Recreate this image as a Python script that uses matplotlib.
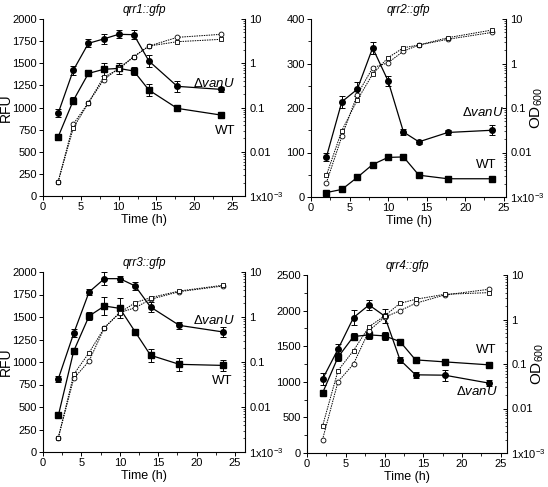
import matplotlib
matplotlib.use('Agg')
from matplotlib import pyplot as plt
from matplotlib.ticker import MultipleLocator, LogLocator, NullFormatter

plt.rcParams['font.family'] = ['Liberation Sans', 'DejaVu Sans']
plt.rcParams['mathtext.fontset'] = 'custom'
plt.rcParams['mathtext.rm'] = 'Liberation Sans'
plt.rcParams['mathtext.it'] = 'Liberation Sans:italic'

time_h = [2, 4, 6, 8, 10, 12, 14, 17.75, 23.5]

# qrr1::gfp
qrr1_vanu = [934, 1420, 1725, 1774, 1827, 1823, 1525, 1239, 1205]
qrr1_vanu_err = [45, 50, 45, 60, 45, 50, 70, 65, 30]
qrr1_wt = [668, 1078, 1385, 1431, 1442, 1412, 1197, 990, 915]
qrr1_wt_err = [30, 35, 20, 70, 65, 50, 65, 35, 30]
qrr1_od_vanu = [0.0021, 0.042, 0.128, 0.42, 0.77, 1.41, 2.45, 3.85, 4.5]
qrr1_od_wt = [0.0021, 0.034, 0.128, 0.48, 0.73, 1.40, 2.45, 3.07, 3.47]

# qrr2::gfp
qrr2_vanu = [90, 214, 242, 335, 261, 146, 124, 145, 150]
qrr2_vanu_err = [10, 14, 16, 14, 11, 7, 4, 6, 11]
qrr2_wt = [10, 17, 44, 73, 89, 90, 49, 41, 41]
qrr2_wt_err = [2, 2, 2, 2, 2, 2, 2, 2, 2]
qrr2_od_vanu = [0.0021, 0.023, 0.20, 0.80, 1.04, 1.9, 2.6, 3.5, 5.0]
qrr2_od_wt = [0.0031, 0.031, 0.15, 0.58, 1.35, 2.26, 2.6, 3.8, 5.65]

# qrr3::gfp
qrr3_vanu = [815, 1319, 1778, 1926, 1926, 1845, 1611, 1407, 1333]
qrr3_vanu_err = [35, 45, 30, 75, 35, 45, 55, 40, 55]
qrr3_wt = [407, 1122, 1511, 1622, 1596, 1335, 1075, 974, 962]
qrr3_wt_err = [15, 30, 45, 100, 110, 30, 75, 70, 65]
qrr3_od_vanu = [0.0021, 0.043, 0.105, 0.58, 1.25, 1.61, 2.47, 3.66, 4.9]
qrr3_od_wt = [0.0021, 0.053, 0.161, 0.58, 1.25, 2.08, 2.69, 3.78, 5.1]

# qrr4::gfp
qrr4_vanu = [1037, 1458, 1902, 2079, 1925, 1308, 1098, 1093, 981]
qrr4_vanu_err = [85, 75, 100, 75, 100, 45, 40, 75, 45]
qrr4_wt = [841, 1346, 1636, 1659, 1645, 1565, 1308, 1280, 1238]
qrr4_wt_err = [30, 60, 55, 60, 55, 40, 30, 35, 45]
qrr4_od_vanu = [0.002, 0.04, 0.10, 0.56, 1.12, 1.58, 2.31, 3.56, 4.78]
qrr4_od_wt = [0.004, 0.071, 0.20, 0.69, 1.2, 2.31, 2.84, 3.68, 4.02]

od_ticks = [1e-3, 0.01, 0.1, 1, 10]
od_labels = ['1x10$^{-3}$', '0.01', '0.1', '1', '10']

panels = [
    dict(title='qrr1::gfp', vanu=qrr1_vanu, vanu_err=qrr1_vanu_err, wt=qrr1_wt, wt_err=qrr1_wt_err,
         od_vanu=qrr1_od_vanu, od_wt=qrr1_od_wt, ymax=2000, ystep=250, yminor=None,
         rect=[43, 19, 245, 196], xmax=26.7, left_label=True,
         vanu_txt=(0.95, 0.638), wt_txt=(0.955, 0.367)),
    dict(title='qrr2::gfp', vanu=qrr2_vanu, vanu_err=qrr2_vanu_err, wt=qrr2_wt, wt_err=qrr2_wt_err,
         od_vanu=qrr2_od_vanu, od_wt=qrr2_od_wt, ymax=400, ystep=100, yminor=50,
         rect=[311, 19, 506, 197], xmax=25.3, left_label=False,
         vanu_txt=(0.99, 0.472), wt_txt=(0.95, 0.18)),
    dict(title='qrr3::gfp', vanu=qrr3_vanu, vanu_err=qrr3_vanu_err, wt=qrr3_wt, wt_err=qrr3_wt_err,
         od_vanu=qrr3_od_vanu, od_wt=qrr3_od_wt, ymax=2000, ystep=250, yminor=None,
         rect=[43, 272, 245, 452], xmax=26.3, left_label=True,
         vanu_txt=(0.95, 0.733), wt_txt=(0.94, 0.394)),
    dict(title='qrr4::gfp', vanu=qrr4_vanu, vanu_err=qrr4_vanu_err, wt=qrr4_wt, wt_err=qrr4_wt_err,
         od_vanu=qrr4_od_vanu, od_wt=qrr4_od_wt, ymax=2500, ystep=500, yminor=250,
         rect=[307, 275, 507, 453], xmax=25.8, left_label=False,
         vanu_txt=(0.955, 0.348), wt_txt=(0.945, 0.579)),
]

W, H = 548, 487
fig = plt.figure(figsize=(W / 100, H / 100), dpi=100)

for p in panels:
    x0, y0, x1, y1 = p['rect']
    ax = fig.add_axes([x0 / W, 1 - y1 / H, (x1 - x0) / W, (y1 - y0) / H])
    ax2 = ax.twinx()

    ax.errorbar(time_h, p['vanu'], yerr=p['vanu_err'], color='black', marker='o', ms=4,
                lw=0.9, elinewidth=0.7, capsize=2, capthick=0.7, zorder=3)
    ax.errorbar(time_h, p['wt'], yerr=p['wt_err'], color='black', marker='s', ms=4,
                lw=0.9, elinewidth=0.7, capsize=2, capthick=0.7, zorder=3)

    ax2.plot(time_h, p['od_vanu'], color='black', ls=(0, (1.5, 1)), lw=0.7, marker='o',
             ms=3.5, mfc='white', mec='black', mew=0.6)
    ax2.plot(time_h, p['od_wt'], color='black', ls=(0, (1.5, 1)), lw=0.7, marker='s',
             ms=3.5, mfc='white', mec='black', mew=0.6)

    ax.set_xlim(0, p['xmax'])
    ax.set_ylim(0, p['ymax'])
    ax.xaxis.set_major_locator(MultipleLocator(5))
    ax.xaxis.set_minor_locator(MultipleLocator(2.5))
    ax.yaxis.set_major_locator(MultipleLocator(p['ystep']))
    if p['yminor']:
        ax.yaxis.set_minor_locator(MultipleLocator(p['yminor']))
    ax.tick_params(which='major', direction='out', length=3, width=0.7, labelsize=8, pad=1.5)
    ax.tick_params(which='minor', direction='out', length=2, width=0.6)
    ax.tick_params(axis='y', which='minor', left=bool(p['yminor']))
    for s in ['top', 'right']:
        ax.spines[s].set_visible(False)
    for s in ['left', 'bottom']:
        ax.spines[s].set_linewidth(0.8)

    ax2.set_yscale('log')
    ax2.set_ylim(1e-3, 10)
    ax2.set_yticks(od_ticks, od_labels)
    ax2.yaxis.set_minor_locator(LogLocator(base=10, subs=range(2, 10)))
    ax2.yaxis.set_minor_formatter(NullFormatter())
    ax2.tick_params(which='major', direction='in', length=3, width=0.7, labelsize=8, pad=3)
    ax2.tick_params(which='minor', direction='in', length=1.5, width=0.5)
    for s in ['top', 'left', 'bottom']:
        ax2.spines[s].set_visible(False)
    ax2.spines['right'].set_linewidth(0.8)

    ax.set_title(p['title'], fontsize=8.5, style='italic', pad=4)
    ax.set_xlabel('Time (h)', fontsize=9, labelpad=1)
    if p['left_label']:
        ax.set_ylabel('RFU', fontsize=10)
        ax.yaxis.set_label_coords(-0.15, 0.5)
    else:
        ax2.set_ylabel('OD$_{600}$', fontsize=11)
        ax2.yaxis.set_label_coords(1.115, 0.5)

    ax.text(*p['vanu_txt'], r'$\Delta\mathit{vanU}$', transform=ax.transAxes,
            ha='right', va='center', fontsize=9.5)
    ax.text(*p['wt_txt'], 'WT', transform=ax.transAxes, ha='right', va='center', fontsize=9.5)

fig.savefig('out.png', dpi=100)
